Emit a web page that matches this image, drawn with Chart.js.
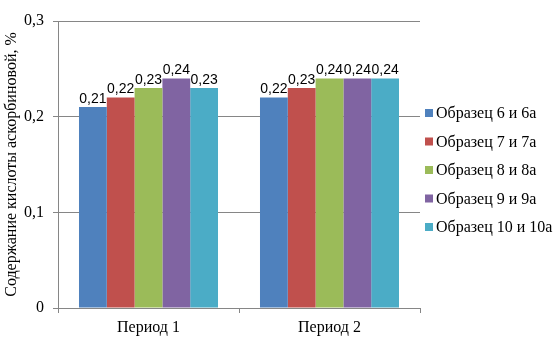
<!DOCTYPE html>
<html>
<head>
<meta charset="utf-8">
<script src="https://cdn.jsdelivr.net/npm/chart.js@4"></script>
<style>
  html, body { margin: 0; padding: 0; background: #fff; }
  #wrap { width: 558px; height: 341px; }
</style>
</head>
<body>
<div id="wrap"><canvas id="c" width="558" height="341"></canvas></div>
<script>
// Ascorbic acid content per sample, by period
const categories = ['Период 1', 'Период 2'];
const seriesNames = ['Образец 6 и 6а', 'Образец 7 и 7а', 'Образец 8 и 8а', 'Образец 9 и 9а', 'Образец 10 и 10а'];
const sample6  = [0.21, 0.22];
const sample7  = [0.22, 0.23];
const sample8  = [0.23, 0.24];
const sample9  = [0.24, 0.24];
const sample10 = [0.23, 0.24];
const yTicks = [0, 0.1, 0.2, 0.3];
const axisTitle = 'Содержание кислоты аскорбиновой, %';

const colors = ['#4F81BD', '#C0504D', '#9BBB59', '#8064A2', '#4BACC6'];
const seriesValues = [sample6, sample7, sample8, sample9, sample10];
const serif = '"Liberation Serif", "Times New Roman", serif';

const fmt = v => v === 0 ? '0' : String(v).replace('.', ',');

// Value labels above each bar
const valueLabels = {
  id: 'valueLabels',
  afterDatasetsDraw(chart) {
    const ctx = chart.ctx;
    ctx.save();
    ctx.font = '14px "Liberation Sans", Arial, sans-serif';
    ctx.fillStyle = '#000';
    ctx.textAlign = 'center';
    ctx.textBaseline = 'bottom';
    chart.data.datasets.forEach((ds, i) => {
      chart.getDatasetMeta(i).data.forEach((bar, j) => {
        ctx.fillText(fmt(ds.data[j]), bar.x, bar.y - 1);
      });
    });
    ctx.restore();
  }
};

// Legend at the right, square markers and serif text
const sideLegend = {
  id: 'sideLegend',
  afterDraw(chart) {
    const ctx = chart.ctx;
    ctx.save();
    ctx.font = '16px ' + serif;
    ctx.textBaseline = 'middle';
    ctx.textAlign = 'left';
    const x0 = 425, y0 = 113, step = 28.5;
    chart.data.datasets.forEach((ds, i) => {
      const y = y0 + i * step;
      ctx.fillStyle = ds.backgroundColor;
      ctx.fillRect(x0, y - 4, 8, 8);
      ctx.fillStyle = '#000';
      ctx.fillText(ds.label, x0 + 11, y + 1);
    });
    ctx.restore();
  }
};

new Chart(document.getElementById('c'), {
  type: 'bar',
  data: {
    labels: categories,
    datasets: seriesNames.map((name, i) => ({
      label: name,
      data: seriesValues[i],
      backgroundColor: colors[i],
      borderWidth: 0,
      categoryPercentage: 0.768,
      barPercentage: 1.0
    }))
  },
  options: {
    responsive: false,
    animation: false,
    devicePixelRatio: 1,
    layout: { padding: { left: 0, right: 138, top: 21, bottom: 0 } },
    plugins: {
      legend: { display: false },
      tooltip: { enabled: false }
    },
    scales: {
      x: {
        offset: true,
        grid: {
          offset: true,
          drawOnChartArea: false,
          drawTicks: true,
          tickLength: 5,
          color: '#868686'
        },
        border: { display: true, color: '#868686' },
        ticks: {
          color: '#000',
          padding: 5,
          font: { family: serif, size: 16 }
        },
        afterFit(scale) { scale.height = 33; }
      },
      y: {
        min: 0,
        max: 0.3,
        afterBuildTicks(scale) { scale.ticks = yTicks.map(v => ({ value: v })); },
        grid: {
          color: '#868686',
          drawTicks: true,
          tickLength: 5
        },
        border: { display: true, color: '#868686' },
        ticks: {
          color: '#000',
          padding: 9,
          callback: v => fmt(v),
          font: { family: serif, size: 16 }
        },
        title: {
          display: true,
          text: axisTitle,
          color: '#000',
          padding: { top: 2, bottom: 0 },
          font: { family: serif, size: 16 }
        },
        afterFit(scale) { scale.width = 58; }
      }
    }
  },
  plugins: [valueLabels, sideLegend]
});
</script>
</body>
</html>
